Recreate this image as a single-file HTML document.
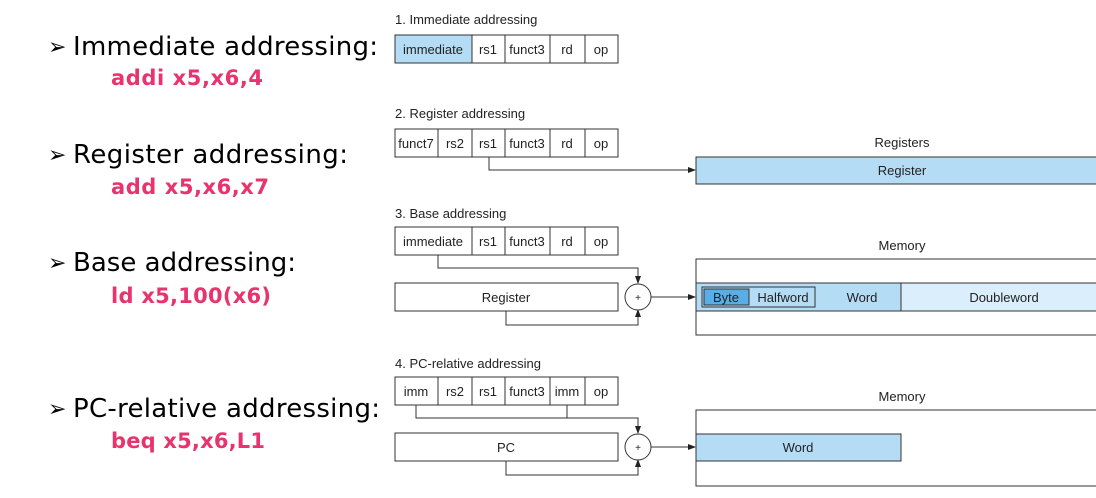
<!DOCTYPE html>
<html><head><meta charset="utf-8"><style>
html,body{margin:0;padding:0;background:#fff;width:1096px;height:498px;overflow:hidden}
svg{display:block}
.h{font-family:"Comic Sans MS","DejaVu Sans",sans-serif;font-size:26px;fill:#000}
.ar{font-family:"DejaVu Sans",sans-serif;font-size:22px;fill:#000}
.c{font-family:"Comic Sans MS","DejaVu Sans",sans-serif;font-size:21px;font-weight:bold;fill:#e8336e}
.t{font-family:"Liberation Sans",sans-serif;font-size:13px;fill:#222}
.f{font-family:"Liberation Sans",sans-serif;font-size:13px;fill:#222;text-anchor:middle}
</style></head><body>
<svg width="1096" height="498" viewBox="0 0 1096 498" xmlns="http://www.w3.org/2000/svg">
<defs><marker id="a" markerWidth="8" markerHeight="6" refX="7" refY="3" orient="auto" markerUnits="userSpaceOnUse"><path d="M0,0 L8,3 L0,6z" fill="#222"/></marker></defs>
<text class="ar" x="48" y="54">➢</text><text class="h" x="73" y="55" textLength="305">Immediate addressing:</text>
<text class="c" x="111" y="85" textLength="152">addi x5,x6,4</text>
<text class="ar" x="48" y="162">➢</text><text class="h" x="73" y="163" textLength="275">Register addressing:</text>
<text class="c" x="111" y="194" textLength="158">add x5,x6,x7</text>
<text class="ar" x="48" y="270">➢</text><text class="h" x="73" y="271" textLength="223">Base addressing:</text>
<text class="c" x="111" y="303" textLength="160">ld x5,100(x6)</text>
<text class="ar" x="48" y="416">➢</text><text class="h" x="73" y="417" textLength="307">PC-relative addressing:</text>
<text class="c" x="111" y="448" textLength="154">beq x5,x6,L1</text>
<g stroke="#333" stroke-width="1" fill="none">
<rect x="395" y="35" width="77" height="28" fill="#b5dcf5"/>
<rect x="472" y="35" width="146" height="28"/>
<path d="M505 35v28M550 35v28M585 35v28"/>
<rect x="395" y="129" width="223" height="28"/>
<path d="M438 129v28M472 129v28M505 129v28M550 129v28M585 129v28"/>
<path d="M489 157v13H695" marker-end="url(#a)"/>
<rect x="696" y="157" width="410" height="27" fill="#b5dcf5"/>
<rect x="395" y="227" width="223" height="28"/>
<path d="M472 227v28M505 227v28M550 227v28M585 227v28"/>
<path d="M438 255v13H638v15" marker-end="url(#a)"/>
<rect x="395" y="283" width="223" height="28"/>
<path d="M506 311v14H638v-15" marker-end="url(#a)"/>
<circle cx="638" cy="297" r="13" fill="#fff"/>
<path d="M651 297H695" marker-end="url(#a)"/>
<rect x="696" y="259" width="410" height="76"/>
<rect x="696" y="283" width="205" height="28" fill="#b5dcf5"/>
<rect x="901" y="283" width="205" height="28" fill="#dbeefb"/>
<rect x="702" y="287" width="113" height="20"/>
<rect x="704" y="289" width="45" height="16" fill="#5aaee6"/>
<rect x="395" y="377" width="223" height="28"/>
<path d="M438 377v28M472 377v28M505 377v28M550 377v28M585 377v28"/>
<path d="M416 405v13H638v15" marker-end="url(#a)"/>
<path d="M567 405v13"/>
<rect x="395" y="433" width="223" height="28"/>
<path d="M506 461v14H638v-15" marker-end="url(#a)"/>
<circle cx="638" cy="447" r="13" fill="#fff"/>
<path d="M651 447H695" marker-end="url(#a)"/>
<rect x="696" y="410" width="410" height="76"/>
<rect x="696" y="434" width="205" height="27" fill="#b5dcf5"/>
</g>
<text class="t" x="395" y="24">1.  Immediate addressing</text>
<text class="f" x="433" y="54">immediate</text><text class="f" x="488" y="54">rs1</text><text class="f" x="527" y="54">funct3</text><text class="f" x="567" y="54">rd</text><text class="f" x="601" y="54">op</text>
<text class="t" x="395" y="118">2. Register addressing</text>
<text class="f" x="416" y="148">funct7</text><text class="f" x="455" y="148">rs2</text><text class="f" x="488" y="148">rs1</text><text class="f" x="527" y="148">funct3</text><text class="f" x="567" y="148">rd</text><text class="f" x="601" y="148">op</text>
<text class="f" x="902" y="147">Registers</text>
<text class="f" x="902" y="175">Register</text>
<text class="t" x="395" y="218">3.  Base addressing</text>
<text class="f" x="433" y="246">immediate</text><text class="f" x="488" y="246">rs1</text><text class="f" x="527" y="246">funct3</text><text class="f" x="567" y="246">rd</text><text class="f" x="601" y="246">op</text>
<text class="f" x="506" y="302">Register</text>
<text class="f" x="638" y="301" style="font-size:10px">+</text>
<text class="f" x="902" y="250">Memory</text>
<text class="f" x="726" y="302">Byte</text><text class="f" x="783" y="302">Halfword</text><text class="f" x="862" y="302">Word</text><text class="f" x="1004" y="302">Doubleword</text>
<text class="t" x="395" y="368">4.  PC-relative addressing</text>
<text class="f" x="416" y="396">imm</text><text class="f" x="455" y="396">rs2</text><text class="f" x="488" y="396">rs1</text><text class="f" x="527" y="396">funct3</text><text class="f" x="567" y="396">imm</text><text class="f" x="601" y="396">op</text>
<text class="f" x="506" y="452">PC</text>
<text class="f" x="638" y="451" style="font-size:10px">+</text>
<text class="f" x="902" y="401">Memory</text>
<text class="f" x="798" y="452">Word</text>
</svg>
</body></html>
